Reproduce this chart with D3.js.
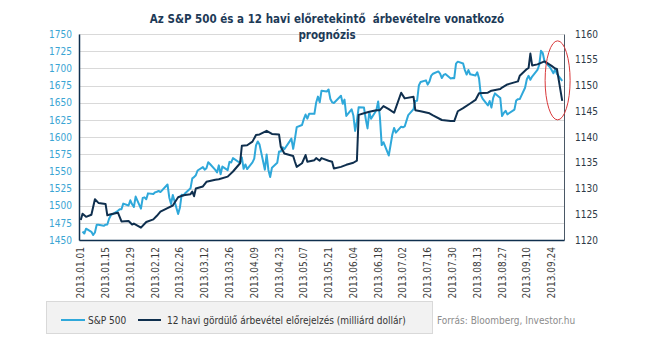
<!DOCTYPE html>
<html>
<head>
<meta charset="utf-8">
<script src="https://cdn.jsdelivr.net/npm/d3@7.9.0/dist/d3.min.js"></script>
<style>
  body { margin: 0; background: #fff; }
  svg text { font-family: "DejaVu Sans Condensed", "DejaVu Sans", sans-serif; }
</style>
</head>
<body>
<svg id="chart" width="645" height="341"></svg>
<script>
// S&P 500 daily close, 2013
const spDays = [
  '01.02','01.03','01.04','01.07','01.08','01.09','01.10','01.11','01.14','01.15','01.16','01.17','01.18',
  '01.22','01.23','01.24','01.25','01.28','01.29','01.30','01.31','02.01','02.04','02.05','02.06','02.07',
  '02.08','02.11','02.12','02.13','02.14','02.15','02.19','02.20','02.21','02.22','02.25','02.26','02.27',
  '02.28','03.01','03.04','03.05','03.06','03.07','03.08','03.11','03.12','03.13','03.14','03.15','03.18',
  '03.19','03.20','03.21','03.22','03.25','03.26','03.27','03.28','04.01','04.02','04.03','04.04','04.05',
  '04.08','04.09','04.10','04.11','04.12','04.15','04.16','04.17','04.18','04.19','04.22','04.23','04.24',
  '04.25','04.26','04.29','04.30','05.01','05.02','05.03','05.06','05.07','05.08','05.09','05.10','05.13',
  '05.14','05.15','05.16','05.17','05.20','05.21','05.22','05.23','05.24','05.28','05.29','05.30','05.31',
  '06.03','06.04','06.05','06.06','06.07','06.10','06.11','06.12','06.13','06.14','06.17','06.18','06.19',
  '06.20','06.21','06.24','06.25','06.26','06.27','06.28','07.01','07.02','07.03','07.05','07.08','07.09',
  '07.10','07.11','07.12','07.15','07.16','07.17','07.18','07.19','07.22','07.23','07.24','07.25','07.26',
  '07.29','07.30','07.31','08.01','08.02','08.05','08.06','08.07','08.08','08.09','08.12','08.13','08.14',
  '08.15','08.16','08.19','08.20','08.21','08.22','08.23','08.26','08.27','08.28','08.29','08.30','09.03',
  '09.04','09.05','09.06','09.09','09.10','09.11','09.12','09.13','09.16','09.17','09.18','09.19','09.20',
  '09.23','09.24','09.25','09.26','09.27','09.30'
];
const spClose = [
  1462.4,1459.4,1466.5,1461.9,1457.2,1461.0,1472.1,1472.1,1470.7,1472.3,1472.6,1480.9,1486.0,
  1492.6,1494.8,1494.8,1503.0,1500.2,1507.8,1502.0,1498.1,1513.2,1495.7,1511.3,1512.1,1509.4,
  1517.9,1517.0,1519.4,1520.3,1521.4,1519.8,1530.9,1512.0,1502.4,1515.6,1487.9,1496.9,1516.0,
  1514.7,1518.2,1525.2,1539.8,1541.5,1544.3,1551.2,1556.2,1552.5,1554.5,1563.2,1560.7,1552.1,
  1548.3,1558.7,1545.8,1556.9,1551.7,1563.8,1562.9,1569.2,1562.2,1570.3,1553.7,1560.0,1553.3,
  1563.1,1568.6,1587.7,1593.4,1588.9,1552.4,1574.6,1552.0,1541.6,1555.3,1562.5,1578.8,1578.8,
  1585.2,1582.2,1593.6,1597.6,1582.7,1597.6,1614.4,1617.5,1626.0,1632.7,1626.7,1633.7,1633.8,
  1650.3,1658.8,1650.5,1667.5,1666.3,1669.2,1655.4,1650.5,1649.6,1660.1,1648.4,1654.4,1630.7,
  1640.4,1631.4,1608.9,1622.6,1643.4,1642.8,1626.1,1612.5,1636.4,1626.7,1639.0,1651.8,1628.9,
  1588.2,1592.4,1573.1,1588.0,1603.3,1613.2,1606.3,1615.0,1614.1,1615.4,1631.9,1640.5,1652.3,
  1652.6,1675.0,1680.2,1682.5,1676.3,1680.9,1689.4,1692.1,1695.5,1692.4,1685.9,1690.3,1691.7,
  1685.3,1686.0,1685.7,1706.9,1709.7,1707.1,1697.4,1690.9,1697.5,1691.4,1689.5,1694.2,1685.4,
  1661.3,1655.8,1646.1,1652.4,1642.8,1657.0,1663.5,1656.8,1630.5,1635.0,1638.2,1633.0,1639.8,
  1653.1,1655.1,1655.2,1671.7,1684.0,1689.1,1683.4,1688.0,1697.6,1704.8,1725.5,1722.3,1709.9,
  1701.8,1697.4,1692.8,1698.7,1691.8,1681.6
];

// 12-month rolling forward revenue estimate (billion USD)
const revDays = [
  '01.01','01.02','01.04','01.07','01.09','01.11','01.15','01.16','01.18','01.22','01.24','01.28','01.30',
  '01.31','02.04','02.07','02.11','02.13','02.15','02.19','02.22','02.25','02.28','03.04','03.05','03.06',
  '03.07','03.11','03.13','03.18','03.20','03.25','03.28','04.01','04.02','04.05','04.08','04.10','04.12',
  '04.16','04.19','04.23','04.24','04.26','04.29','05.01','05.02','05.03','05.06','05.08','05.09','05.13',
  '05.14','05.16','05.17','05.21','05.23','05.24','05.28','05.31','06.04','06.06','06.07','06.10','06.13',
  '06.17','06.19','06.21','06.24','06.27','07.01','07.03','07.08','07.09','07.12','07.17','07.19','07.24',
  '07.29','07.31','08.02','08.05','08.09','08.12','08.14','08.19','08.21','08.26','08.27','08.30','09.03',
  '09.05','09.06','09.10','09.11','09.12','09.13','09.16','09.18','09.20','09.24','09.26','09.27','09.30'
];
const revValues = [
  1123.9,1125.1,1124.5,1124.9,1127.9,1127.2,1127.0,1124.8,1125.0,1125.3,1123.6,1123.7,1123.0,
  1123.2,1122.4,1123.5,1124.0,1124.7,1125.5,1126.2,1126.7,1128.3,1128.7,1128.9,1129.4,1128.5,
  1130.0,1130.4,1131.3,1131.7,1131.8,1132.3,1133.3,1134.9,1138.3,1138.4,1139.1,1140.4,1140.5,
  1141.2,1140.6,1140.5,1138.1,1136.8,1136.5,1136.3,1135.2,1134.2,1134.9,1136.5,1135.2,1135.5,
  1135.9,1135.4,1135.9,1135.4,1135.2,1133.9,1134.2,1134.6,1135.0,1135.4,1144.3,1144.6,1144.9,
  1145.2,1145.2,1146.0,1145.4,1144.7,1148.6,1147.5,1147.8,1145.2,1145.0,1144.6,1144.2,1143.3,
  1143.1,1143.1,1145.0,1145.6,1146.5,1147.2,1148.5,1148.6,1149.0,1149.3,1149.6,1150.2,1150.6,
  1150.8,1151.9,1153.2,1153.4,1156.2,1153.9,1154.1,1154.4,1154.7,1153.8,1153.3,1153.2,1147.0
];

const dateLabels = ['01.01','01.15','01.29','02.12','02.26','03.12','03.26','04.09','04.23','05.07',
  '05.21','06.04','06.18','07.02','07.16','07.30','08.13','08.27','09.10','09.24'];
const leftTicks = [1450,1475,1500,1525,1550,1575,1600,1625,1650,1675,1700,1725,1750];
const rightTicks = [1120,1125,1130,1135,1140,1145,1150,1155,1160];

const spColor = '#2fa8da';
const revColor = '#0f2f4e';

const parse = d3.timeParse('%Y.%m.%d');
const day = s => parse('2013.' + s);

const plot = { left: 79, right: 564, top: 34, bottom: 240 };

const x = d3.scaleTime()
  .domain([parse('2012.12.31'), parse('2013.10.01')])
  .range([plot.left, plot.right]);
const yLeft = d3.scaleLinear().domain([1450, 1750]).range([plot.bottom, plot.top]);
const yRight = d3.scaleLinear().domain([1120, 1160]).range([plot.bottom, plot.top]);

const svg = d3.select('#chart');
svg.append('rect').attr('width', 645).attr('height', 341).attr('fill', '#fff');

// horizontal gridlines follow the left axis
svg.append('g')
  .selectAll('line')
  .data(leftTicks)
  .join('line')
  .attr('x1', plot.left).attr('x2', plot.right)
  .attr('y1', d => Math.round(yLeft(d)) + 0.5)
  .attr('y2', d => Math.round(yLeft(d)) + 0.5)
  .attr('stroke', '#d9d9d9');

// left axis
const gLeft = svg.append('g')
  .attr('transform', `translate(${plot.left},0)`)
  .call(d3.axisLeft(yLeft).tickValues(leftTicks).tickFormat(d3.format('d')).tickSize(0).tickPadding(7));
gLeft.select('.domain').attr('stroke', revColor).attr('stroke-width', 1.5);
gLeft.selectAll('text').attr('fill', '#3aa5d4').attr('font-size', 10);

// right axis
const gRight = svg.append('g')
  .attr('transform', `translate(${plot.right},0)`)
  .call(d3.axisRight(yRight).tickValues(rightTicks).tickFormat(d3.format('d')).tickSize(0).tickPadding(11));
gRight.select('.domain').attr('stroke', '#4a5866').attr('stroke-width', 1);
gRight.selectAll('text').attr('fill', '#2e3a46').attr('font-size', 10);

// bottom axis with vertical date labels
const gBottom = svg.append('g')
  .attr('transform', `translate(0,${plot.bottom})`)
  .call(d3.axisBottom(x).tickValues(dateLabels.map(day)).tickSize(0).tickFormat(''));
gBottom.select('.domain').attr('stroke', revColor).attr('stroke-width', 1.5);

const fmt = d3.timeFormat('%Y.%m.%d');
svg.append('g')
  .selectAll('text')
  .data(dateLabels.map(day))
  .join('text')
  .attr('transform', d => `translate(${x(d)},${plot.bottom + 7}) rotate(-90)`)
  .attr('text-anchor', 'end')
  .attr('dy', '0.35em')
  .attr('font-size', 10)
  .attr('fill', '#3b3b3b')
  .text(d => fmt(d));

// series lines
const spLine = d3.line()
  .x((d, i) => x(day(spDays[i])))
  .y(d => yLeft(d));
const revLine = d3.line()
  .x((d, i) => x(day(revDays[i])))
  .y(d => yRight(d));

svg.append('path')
  .attr('d', spLine(spClose))
  .attr('fill', 'none')
  .attr('stroke', spColor)
  .attr('stroke-width', 2)
  .attr('stroke-linejoin', 'round');

svg.append('path')
  .attr('d', revLine(revValues))
  .attr('fill', 'none')
  .attr('stroke', revColor)
  .attr('stroke-width', 2)
  .attr('stroke-linejoin', 'round');

// highlight on the last week
svg.append('ellipse')
  .attr('cx', x(day('09.24')) + 6)
  .attr('cy', yRight(1151))
  .attr('rx', 12.5)
  .attr('ry', 39.5)
  .attr('fill', 'none')
  .attr('stroke', '#d9383a')
  .attr('stroke-width', 1);

// title
const title = svg.append('text')
  .attr('text-anchor', 'middle')
  .attr('fill', '#1d3a57')
  .attr('font-size', 11.5)
  .attr('font-weight', 'bold')
  .style('white-space', 'pre');
title.append('tspan').attr('x', 327).attr('y', 23)
  .text('Az S&P 500 és a 12 havi előretekintő  árbevételre vonatkozó');
title.append('tspan').attr('x', 327).attr('y', 39).text('prognózis');

// legend
const legend = svg.append('g');
legend.append('rect')
  .attr('x', 46.5).attr('y', 301.5)
  .attr('width', 386).attr('height', 32)
  .attr('fill', '#f2f2f2')
  .attr('stroke', '#d9d9d9');

const items = [
  { label: 'S&P 500', color: spColor, x0: 61, x1: 85, tx: 88 },
  { label: '12 havi gördülő árbevétel előrejelzés (milliárd dollár)', color: revColor, x0: 138, x1: 161, tx: 167 }
];
items.forEach(it => {
  legend.append('line')
    .attr('x1', it.x0).attr('x2', it.x1)
    .attr('y1', 320).attr('y2', 320)
    .attr('stroke', it.color).attr('stroke-width', 2);
  legend.append('text')
    .attr('x', it.tx).attr('y', 320)
    .attr('dy', '0.35em')
    .attr('font-size', 10)
    .attr('fill', '#333')
    .text(it.label);
});

svg.append('text')
  .attr('x', 437).attr('y', 320)
  .attr('dy', '0.35em')
  .attr('font-size', 10)
  .attr('fill', '#8c8c8c')
  .text('Forrás: Bloomberg, Investor.hu');
</script>
</body>
</html>
